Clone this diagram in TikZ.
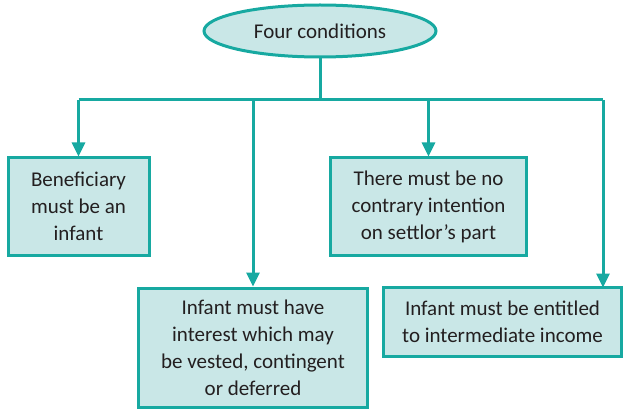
\documentclass[tikz,border=0pt]{standalone}
\usepackage{fontspec}
\setmainfont{Carlito}
\usetikzlibrary{arrows.meta,calc,shapes.geometric}
\definecolor{lineteal}{HTML}{17A9A1}
\definecolor{pale}{HTML}{C9E7E7}
\definecolor{ink}{HTML}{231F20}
\tikzset{
  box/.style={draw=lineteal, fill=pale, line width=3pt, rectangle, align=center,
    inner sep=0pt, text=ink, font=\fontsize{21}{27}\selectfont},
  oval/.style={draw=lineteal, fill=pale, line width=3pt, ellipse, inner sep=0pt,
    text=ink, font=\fontsize{21}{27}\selectfont},
  link/.style={draw=lineteal, line width=3pt},
  arr/.style={link, -{Triangle[length=14pt,width=13pt]}},
}
\begin{document}
\begin{tikzpicture}[x=1pt,y=-1pt]
  \useasboundingbox (0,0) rectangle (624,409);
  % root
  \node[oval, minimum width=232pt, minimum height=52pt] (top) at (320,31) {Four conditions};
  % the four conditions
  \node[box, minimum width=141pt, minimum height=97pt] (b1) at (78.5,206.5)
    {Beneficiary\\must be an\\infant};
  \node[box, minimum width=229pt, minimum height=119pt] (b2) at (253,347.5)
    {Infant must have\\interest which may\\be vested, contingent\\or deferred};
  \node[box, minimum width=196pt, minimum height=97pt] (b3) at (428.5,206.5)
    {There must be no\\contrary intention\\on settlor’s part};
  \node[box, minimum width=238pt, minimum height=69pt] (b4) at (502.5,322)
    {Infant must be entitled\\to intermediate income};
  % branching lines
  \coordinate (bar) at (320,100);
  \coordinate (b4in) at (603,287.5);
  \draw[link] (top.south) -- (bar);
  \draw[link] (b1.north |- bar) -- (b4in |- bar);
  \draw[arr] (b1.north |- bar) -- (b1.north);
  \draw[arr] (b2.north |- bar) -- (b2.north);
  \draw[arr] (b3.north |- bar) -- (b3.north);
  \draw[arr] (b4in |- bar) -- (b4in);
\end{tikzpicture}
\end{document}
